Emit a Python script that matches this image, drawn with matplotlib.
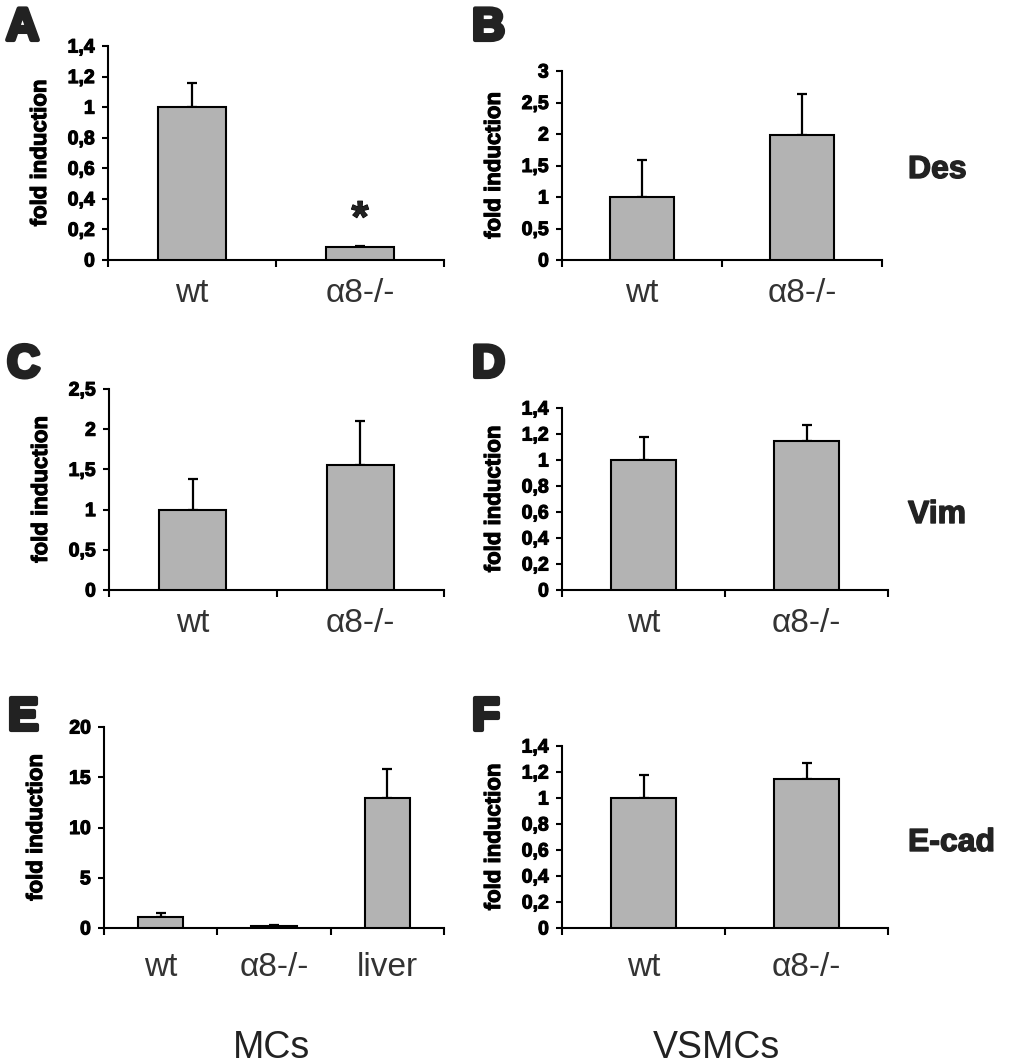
import numpy as np
import matplotlib
matplotlib.use("Agg")
import matplotlib.pyplot as plt
import matplotlib.patheffects as pe

plt.rcParams['font.family'] = ['Liberation Sans', 'DejaVu Sans']

W, H = 1022, 1064

cats2 = ['wt', '\u03b18-/-']
cats3 = ['wt', '\u03b18-/-', 'liver']

a_vals = [1.0, 0.087]
a_err = [0.16, 0.007]
b_vals = [1.0, 1.98]
b_err = [0.58, 0.66]
c_vals = [1.0, 1.555]
c_err = [0.385, 0.55]
d_vals = [1.0, 1.147]
d_err = [0.175, 0.12]
e_vals = [1.06, 0.17, 12.95]
e_err = [0.4, 0.09, 2.88]
f_vals = [1.0, 1.149]
f_err = [0.18, 0.118]

bar_color = '#b3b3b3'
thick = [pe.withStroke(linewidth=0.8, foreground='black')]


def fmt(v):
    return ('%g' % round(v, 2)).replace('.', ',')


def panel(fig, box, cats, vals, errs, ymax, ystep, lab_off):
    l, r, t, b = box
    ax = fig.add_axes([l / W, 1 - b / H, (r - l) / W, (b - t) / H])
    x = np.arange(len(cats))
    ax.bar(x, vals, width=0.4, color=bar_color, edgecolor='black', linewidth=1.5, zorder=3)
    ax.errorbar(x, vals, yerr=[np.zeros(len(vals)), errs], fmt='none', ecolor='black',
                elinewidth=1.6, capsize=3.5, capthick=1.6, zorder=2)
    ax.set_xlim(-0.5, len(cats) - 0.5)
    ax.set_ylim(0, ymax)
    yt = np.arange(0, ymax + ystep / 2, ystep)
    ax.set_yticks(yt)
    ax.set_yticklabels([fmt(v) for v in yt], fontweight='bold', fontsize=14)
    for tl in ax.get_yticklabels():
        tl.set_path_effects(thick)
    ax.set_xticks(np.arange(len(cats) + 1) - 0.5)
    ax.set_xticklabels([])
    ax.tick_params(axis='y', length=4.5, width=1.5, pad=5)
    ax.tick_params(axis='x', length=5, width=1.5)
    for s in ['top', 'right']:
        ax.spines[s].set_visible(False)
    for s in ['left', 'bottom']:
        ax.spines[s].set_linewidth(1.5)
    ax.set_ylabel('fold induction', fontweight='bold', fontsize=16, path_effects=thick)
    ax.yaxis.set_label_coords(-57 / (r - l), 0.5)
    for i, c in enumerate(cats):
        ax.annotate(c, xy=(i, 0), xycoords=('data', 'axes fraction'),
                    xytext=(0, -lab_off * 0.72), textcoords='offset points',
                    ha='center', va='center', fontsize=24, color='#333333')
    return ax


fig = plt.figure(figsize=(W / 100, H / 100), dpi=100)

axA = panel(fig, (108, 444, 46, 260), cats2, a_vals, a_err, 1.4, 0.2, 33)
axA.text(1, 0.26, '*', ha='center', va='center', fontsize=32, fontweight='bold',
         color='#222222', path_effects=thick)
panel(fig, (562, 882, 71, 260), cats2, b_vals, b_err, 3, 0.5, 33)
panel(fig, (109, 444, 389, 590), cats2, c_vals, c_err, 2.5, 0.5, 33)
panel(fig, (562, 888, 408, 590), cats2, d_vals, d_err, 1.4, 0.2, 33)
panel(fig, (104, 444, 727, 928), cats3, e_vals, e_err, 20, 5, 40)
panel(fig, (562, 888, 746, 928), cats2, f_vals, f_err, 1.4, 0.2, 40)

letters = [('A', 6, 6), ('B', 472, 6), ('C', 7, 343), ('D', 472, 343), ('E', 8, 696), ('F', 472, 696)]
for s, x, y in letters:
    fig.text(x / W, 1 - y / H, s, ha='left', va='top', fontsize=33, fontweight='bold',
             color='#222222', path_effects=[pe.withStroke(linewidth=3, foreground='#222222')])

for s, y in [('Des', 170), ('Vim', 515), ('E-cad', 843)]:
    fig.text(908 / W, 1 - y / H, s, ha='left', va='center', fontsize=23, fontweight='bold',
             color='#222222', path_effects=[pe.withStroke(linewidth=1, foreground='#222222')])

fig.text(272 / W, 1 - 1030 / H, 'MCs', ha='center', va='top', fontsize=27, color='#222222')
fig.text(716 / W, 1 - 1030 / H, 'VSMCs', ha='center', va='top', fontsize=27, color='#222222')

fig.savefig('out.png', dpi=100)
